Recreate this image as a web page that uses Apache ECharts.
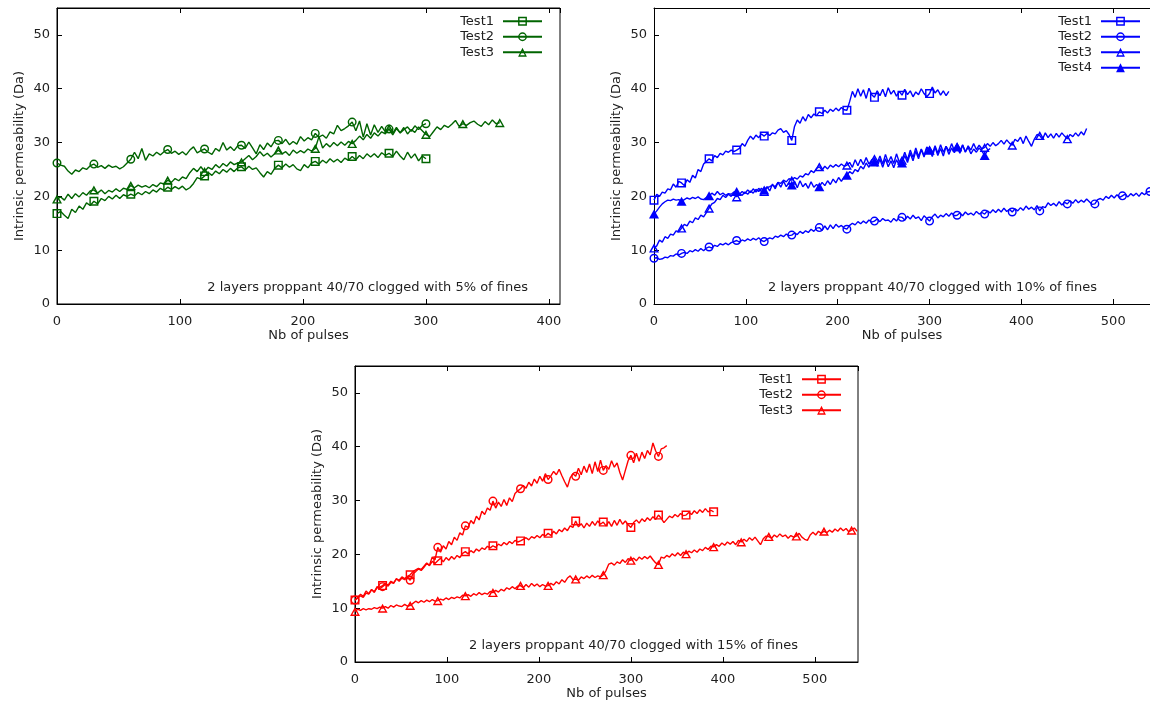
<!DOCTYPE html>
<html>
<head>
<meta charset="utf-8">
<title>Intrinsic permeability vs number of pulses</title>
<script src="https://cdn.jsdelivr.net/npm/echarts/dist/echarts.min.js"></script>
<style>
  html, body { margin: 0; padding: 0; background: #fff; }
  #chart { width: 1150px; height: 704px; }
</style>
</head>
<body>
<div id="chart"></div>
<script>
// Readings are taken every 3 pulses; a marker is drawn every 30 pulses.
const PULSE_STEP = 3;
const MARK_EVERY = 30;

const xTickStep = 100;
const yTickStep = 10;
const yMax = 55;

// ---- 5% of fines ----
const fines5Test1 = [
  16.8,17.2,16.5,15.9,17.6,17.0,18.2,17.6,18.8,18.3,19.1,
  18.6,19.6,19.2,20.0,19.5,20.2,19.6,20.3,20.0,20.4,
  20.1,20.7,20.3,20.9,20.5,21.2,20.8,21.5,21.1,21.7,
  21.3,21.8,21.4,21.9,21.2,21.6,22.4,23.5,23.2,23.8,
  24.4,23.9,24.7,24.2,25.0,24.5,25.2,24.6,25.3,25.5,
  24.9,25.6,25.0,25.3,24.4,23.6,24.6,24.1,25.2,25.8,
  25.3,26.0,25.4,25.9,25.1,24.8,25.9,25.3,26.2,26.5,
  26.0,26.7,26.2,27.0,26.4,26.9,26.3,27.1,26.7,27.4,
  26.8,27.6,27.0,27.9,27.3,27.9,27.2,28.1,27.6,28.0,
  27.4,28.4,27.5,26.8,28.2,27.1,27.9,26.6,27.5,27.0
];
const fines5Test2 = [
  26.2,25.8,25.6,24.7,24.1,24.9,24.6,25.3,25.0,25.7,26.0,
  25.4,25.7,25.2,25.8,25.4,25.6,25.1,25.5,26.2,26.9,
  28.2,27.0,28.9,26.7,27.9,27.5,28.2,27.7,28.3,28.7,
  28.0,28.4,27.8,28.3,27.7,28.6,29.2,28.1,28.5,28.8,
  28.2,27.8,28.9,28.4,30.0,28.6,29.2,28.5,29.4,29.5,
  28.9,30.1,29.0,27.9,29.6,28.7,29.9,29.2,30.3,30.4,
  29.8,30.6,29.6,30.2,29.7,31.1,30.3,30.9,30.5,31.7,
  31.0,31.4,30.8,32.0,31.6,33.2,32.2,32.6,33.1,33.8,
  32.2,34.0,31.0,33.5,31.4,33.3,31.9,33.0,32.0,32.5,
  31.7,32.8,31.8,32.4,32.9,32.1,33.1,32.4,33.2,33.5
];
const fines5Test3 = [
  19.5,19.9,19.3,20.4,19.6,20.5,19.9,20.7,20.2,21.0,21.2,
  20.6,21.2,20.5,21.1,20.8,21.4,20.9,21.5,21.3,22.0,
  21.6,22.1,21.7,22.0,21.6,22.2,21.8,22.5,22.3,23.0,
  22.6,23.3,22.9,23.6,23.3,24.4,25.2,24.6,25.5,24.6,
  25.4,25.0,25.9,25.3,26.1,25.6,26.4,25.9,26.2,26.4,
  27.0,27.6,26.8,27.4,28.3,27.5,28.0,27.3,27.9,28.6,
  27.9,28.3,27.6,28.6,28.0,28.5,28.1,28.8,28.4,28.9,
  31.1,29.0,29.8,29.2,30.0,29.4,30.1,29.5,30.2,29.8,
  30.4,31.2,30.5,31.5,30.8,31.8,31.2,32.0,31.6,32.6,
  31.4,32.6,31.8,32.8,31.6,32.4,31.9,32.9,32.2,31.5,
  31.1,32.0,32.9,32.4,33.2,32.8,33.4,34.1,33.0,33.5,
  33.2,33.7,34.0,33.4,33.0,33.9,33.3,34.2,33.5,33.7
];

// ---- 10% of fines ----
const fines10Test1 = [
  19.3,20.4,20.0,20.8,20.6,21.4,21.2,22.3,21.7,22.8,22.5,
  22.0,23.1,22.6,23.9,23.4,25.0,24.6,26.0,26.5,27.0,
  26.6,27.6,27.2,28.0,27.7,28.4,28.2,28.6,28.3,28.6,
  28.9,29.8,29.3,30.4,31.2,30.6,31.4,30.9,31.6,31.2,
  31.7,31.3,31.8,31.6,32.3,32.6,31.9,32.2,31.5,30.4,
  33.0,34.2,33.6,34.8,34.0,35.2,34.6,35.3,35.0,35.7,
  35.4,36.0,35.5,36.2,35.8,36.4,35.9,36.5,36.1,36.0,
  37.6,39.5,38.4,40.0,38.6,39.8,38.2,40.1,38.9,38.4,
  39.6,38.7,39.9,38.5,40.2,39.0,39.7,38.6,39.5,38.8,
  39.9,38.9,39.6,38.5,39.4,38.9,40.0,39.1,38.5,39.1,
  40.3,39.2,39.8,38.8,39.6,38.7,39.5
];
const fines10Test2 = [
  8.5,8.6,8.3,8.4,8.7,8.6,9.0,8.9,9.3,9.1,9.4,
  9.6,9.4,9.9,9.7,10.1,9.8,10.3,9.9,10.4,10.6,
  10.4,10.9,10.7,11.2,11.0,11.3,11.0,11.4,11.6,11.8,
  11.5,11.9,11.7,12.1,11.8,12.2,11.9,12.3,11.8,11.6,
  12.0,12.3,12.1,12.6,12.4,12.8,12.5,13.0,12.7,12.8,
  13.2,12.9,13.5,13.1,13.6,13.3,13.9,13.5,14.1,14.2,
  13.7,14.5,13.8,14.7,14.0,14.8,14.3,14.6,14.1,13.9,
  14.6,15.0,14.7,15.3,14.9,15.4,15.0,15.6,15.2,15.4,
  15.8,15.3,15.9,15.5,15.6,15.2,15.9,15.4,16.2,16.1,
  15.6,16.3,15.8,16.5,15.9,16.2,15.5,16.4,15.9,15.4,
  16.2,16.7,16.0,16.5,16.2,16.8,16.3,16.9,16.4,16.5,
  16.9,16.4,17.1,16.6,16.9,16.5,17.2,16.7,17.0,16.7,
  17.3,16.9,17.5,17.0,17.6,17.1,17.8,17.2,17.6,17.1,
  17.7,17.3,17.9,17.4,18.2,17.6,18.0,17.5,18.3,17.3,
  18.1,17.9,18.8,18.3,18.7,18.2,19.0,18.4,18.9,18.6,
  19.2,18.7,19.4,18.8,19.3,18.9,19.5,19.0,18.5,18.6,
  19.4,19.6,19.3,20.0,19.6,20.2,19.7,20.3,19.8,20.1,
  20.4,19.9,20.5,20.1,20.6,20.0,20.7,20.3,20.8,20.9
];
const fines10Test3 = [
  10.4,10.8,11.9,11.5,12.5,12.2,13.0,12.8,13.6,13.4,14.1,
  14.8,14.5,15.4,15.1,16.0,15.7,16.5,16.2,17.0,17.8,
  18.6,18.9,19.6,19.4,20.2,19.8,20.4,20.0,20.6,19.9,
  20.5,20.2,20.8,20.4,21.0,20.6,21.3,20.9,21.5,20.9,
  21.6,21.8,22.1,21.8,22.6,22.4,23.0,22.7,23.3,23.0,
  23.5,23.2,23.8,23.6,24.2,24.0,24.8,24.4,25.2,25.5,
  24.9,25.6,25.1,25.8,25.4,25.9,25.5,26.0,25.6,25.8,
  26.3,25.4,26.8,25.7,26.9,25.9,27.2,26.0,26.8,27.0,
  26.2,27.5,26.0,27.8,26.3,27.4,26.1,27.9,26.4,26.7,
  28.2,26.8,28.6,27.2,29.0,27.4,28.8,27.6,29.2,28.6,
  27.9,29.4,28.0,29.6,28.2,29.3,28.4,29.8,28.5,29.2,
  28.4,29.6,28.2,29.4,28.6,29.8,28.7,29.5,28.8,29.1,
  29.8,29.3,30.0,29.4,29.8,30.4,29.7,30.5,29.9,29.5,
  30.6,30.2,31.0,29.8,31.2,30.2,29.3,30.6,31.5,31.3,
  30.6,31.8,30.9,31.6,30.8,31.7,31.0,31.8,31.2,30.7,
  31.5,31.1,31.8,31.2,32.0,31.4,32.6
];
const fines10Test4 = [
  16.7,17.3,18.0,18.6,19.0,19.3,19.2,19.5,19.3,19.4,19.1,
  19.4,19.7,19.5,19.8,19.6,19.9,19.5,19.4,19.8,20.1,
  20.6,20.2,20.9,20.3,20.6,20.2,20.5,20.4,20.8,20.9,
  20.4,20.9,20.5,21.2,20.7,21.4,20.8,21.5,20.9,21.2,
  21.8,21.0,22.3,21.4,22.6,21.7,22.8,21.8,22.5,22.1,
  22.8,21.6,22.9,21.8,22.4,21.5,22.7,21.7,22.2,21.8,
  22.6,22.0,22.9,22.2,23.2,22.5,23.5,22.8,23.6,23.9,
  24.6,24.2,25.0,24.6,25.6,25.1,26.2,25.4,26.6,26.4,
  25.6,26.9,25.4,27.0,25.5,26.6,25.3,26.8,25.8,26.2,
  27.6,26.3,28.0,26.6,28.4,27.0,28.7,27.3,29.0,28.6,
  27.4,29.1,27.6,28.9,27.5,29.3,27.8,29.0,28.1,29.2,
  28.0,29.5,28.3,29.1,27.9,28.8,28.2,29.0,28.4,27.6,
  28.5,28.9
];

// ---- 15% of fines ----
const fines15Test1 = [
  11.5,11.9,12.3,12.0,12.8,12.6,13.4,13.1,13.8,13.9,14.2,
  14.6,14.3,15.0,14.7,15.4,15.2,15.8,15.5,15.9,16.2,
  16.8,17.1,17.4,17.2,17.8,18.4,17.9,18.7,18.3,18.8,
  19.3,18.6,19.4,18.9,19.6,19.1,19.8,19.4,20.2,20.5,
  20.1,20.7,20.3,21.0,20.6,21.2,20.9,21.5,21.2,21.6,
  21.3,21.9,21.6,22.2,21.8,22.4,22.0,22.6,22.3,22.5,
  22.8,23.1,22.7,23.3,23.0,23.5,23.1,23.7,23.4,23.9,
  23.5,24.3,23.8,24.6,24.2,24.9,24.4,25.3,25.0,26.2,
  25.1,25.7,24.9,25.8,25.2,26.1,25.4,26.2,25.6,26.0,
  25.3,26.1,25.2,26.3,25.4,26.5,25.6,26.2,25.5,25.0,
  25.9,26.4,25.8,26.6,26.1,26.8,26.3,27.0,26.5,27.3,
  26.7,25.9,26.5,27.1,26.8,27.4,27.0,27.6,27.2,27.3,
  27.8,27.4,28.1,27.6,28.3,27.8,28.5,27.9,28.2,27.9
];
const fines15Test2 = [
  11.5,12.0,12.6,12.2,13.2,12.7,13.5,12.9,14.0,13.6,14.0,
  14.4,14.1,14.8,14.6,15.5,15.0,15.6,15.3,15.8,15.2,
  16.4,16.8,17.3,17.0,17.6,18.3,18.0,19.5,19.0,21.3,
  20.4,21.6,21.0,22.4,21.8,23.2,22.6,24.0,23.6,25.3,
  25.0,26.3,25.7,27.1,26.4,28.0,27.4,28.6,28.2,29.9,
  28.6,29.7,28.9,30.2,29.1,30.5,29.8,31.3,31.8,32.2,
  32.8,32.3,33.4,32.7,34.0,33.2,34.5,33.6,35.0,33.9,
  34.6,35.4,34.8,35.8,34.6,33.5,32.5,34.2,35.0,34.5,
  36.0,34.8,36.4,35.2,36.8,35.0,37.2,35.4,37.5,35.6,
  36.5,35.8,37.4,36.2,37.0,35.2,33.8,35.6,37.4,38.4,
  37.0,38.8,37.3,39.0,37.8,39.3,38.5,40.7,39.2,38.2,
  39.6,39.8,40.2
];
const fines15Test3 = [
  9.4,9.8,9.6,9.9,9.7,9.9,9.8,10.1,9.9,10.2,10.0,
  10.3,10.0,10.5,10.2,10.6,10.4,10.3,10.7,10.4,10.5,
  10.9,11.3,11.0,11.4,11.1,11.5,11.2,11.6,11.3,11.4,
  11.7,11.5,11.9,11.6,12.0,11.8,12.1,11.9,12.4,12.3,
  12.5,12.2,12.7,12.4,12.9,12.5,12.8,12.6,13.1,12.9,
  13.3,13.0,13.5,13.2,13.8,13.5,14.0,13.6,14.1,14.2,
  13.8,14.4,13.9,14.6,14.1,14.5,14.0,14.4,14.1,14.2,
  14.6,14.3,14.9,14.5,15.3,14.8,15.6,16.0,15.3,15.4,
  15.2,15.8,15.5,16.0,15.6,16.1,15.7,16.0,15.8,16.2,
  17.0,18.2,18.4,18.0,18.6,18.3,19.0,18.5,19.2,18.9,
  19.3,18.8,19.5,19.1,19.6,19.2,19.7,19.0,18.4,18.1,
  19.5,19.3,19.8,19.5,20.1,19.7,20.3,19.8,20.4,20.1,
  20.6,20.3,20.8,20.4,21.0,20.7,21.3,20.9,21.5,21.4,
  21.8,21.5,22.1,21.7,22.3,21.9,22.4,21.8,22.6,22.3,
  22.8,22.4,23.1,22.6,23.2,22.5,21.8,22.9,23.4,23.3,
  23.0,23.6,23.2,23.8,23.3,23.6,23.0,23.5,23.2,23.4,
  23.9,23.2,22.8,22.6,23.6,24.1,23.6,24.3,23.9,24.3,
  24.0,24.5,24.1,24.7,24.3,24.9,24.4,24.8,24.2,24.5,
  24.9,24.3
];

// Hollow marker outlines (outer contour clockwise, inner contour reversed
// so the centre stays open and the curve shows through).
const HOLLOW_SQUARE = 'path://M0,0H10V10H0Z M1.6,1.6V8.4H8.4V1.6Z';
const HOLLOW_CIRCLE = 'path://M5,0A5,5 0 1 1 5,10A5,5 0 1 1 5,0Z M5,1.6A3.4,3.4 0 1 0 5,8.4A3.4,3.4 0 1 0 5,1.6Z';
const HOLLOW_TRIANGLE = 'path://M5,0L10,9L0,9Z M5,3.2L2.3,7.6L7.7,7.6Z';
const FILLED_TRIANGLE = 'path://M5,0L10,9L0,9Z';

const FONT = '"DejaVu Sans", "Liberation Sans", sans-serif';
const TEXT_COLOR = '#1e1e1e';

const panels = [
  {
    tag: '5%', color: '#006400',
    grid: { left: 57, top: 8, width: 503, height: 296, show: true },
    xMax: 409,
    legend: { right: 607, top: 14 },
    note: { x: 528, y: 288, text: '2 layers proppant 40/70 clogged with 5% of fines' },
    curves: [
      ['Test1', fines5Test1, HOLLOW_SQUARE, [9, 9]],
      ['Test2', fines5Test2, HOLLOW_CIRCLE, [9, 9]],
      ['Test3', fines5Test3, HOLLOW_TRIANGLE, [10, 9]]
    ]
  },
  {
    tag: '10%', color: '#0000ff',
    grid: { left: 654, top: 8, width: 496, height: 296, show: false },
    xMax: 540,
    legend: { right: 9, top: 14 },
    note: { x: 1097, y: 288, text: '2 layers proppant 40/70 clogged with 10% of fines' },
    curves: [
      ['Test1', fines10Test1, HOLLOW_SQUARE, [9, 9]],
      ['Test2', fines10Test2, HOLLOW_CIRCLE, [9, 9]],
      ['Test3', fines10Test3, HOLLOW_TRIANGLE, [10, 9]],
      ['Test4', fines10Test4, FILLED_TRIANGLE, [10, 9]]
    ]
  },
  {
    tag: '15%', color: '#ff0000',
    grid: { left: 355, top: 366, width: 503, height: 296, show: true },
    xMax: 547,
    legend: { right: 308, top: 372 },
    note: { x: 798, y: 646, text: '2 layers proppant 40/70 clogged with 15% of fines' },
    curves: [
      ['Test1', fines15Test1, HOLLOW_SQUARE, [9, 9]],
      ['Test2', fines15Test2, HOLLOW_CIRCLE, [9, 9]],
      ['Test3', fines15Test3, HOLLOW_TRIANGLE, [10, 9]]
    ]
  }
];

function toPoints(values) {
  return values.map(function (y, i) {
    const x = i * PULSE_STEP;
    return x % MARK_EVERY === 0 ? { value: [x, y] } : { value: [x, y], symbol: 'none' };
  });
}

const labelStyle = { fontFamily: FONT, fontSize: 13, color: TEXT_COLOR };

const grids = [], xAxes = [], yAxes = [], legends = [], series = [], graphics = [];

panels.forEach(function (p, i) {
  grids.push(Object.assign({ borderColor: '#000', borderWidth: 1, backgroundColor: 'transparent', containLabel: false }, p.grid));

  // bottom axis with labels
  xAxes.push({
    gridIndex: i, type: 'value', min: 0, max: p.xMax, interval: xTickStep,
    name: 'Nb of pulses', nameLocation: 'middle', nameGap: 25,
    nameTextStyle: labelStyle,
    axisLine: { show: true, lineStyle: { color: '#000', width: 1 } },
    axisTick: { show: true, inside: true, length: 5, lineStyle: { color: '#000' } },
    axisLabel: Object.assign({ margin: 11, showMaxLabel: false }, labelStyle),
    splitLine: { show: false }
  });
  // top border carrying the mirrored ticks
  xAxes.push({
    gridIndex: i, type: 'value', position: 'top', min: 0, max: p.xMax, interval: xTickStep,
    axisLine: { show: true, onZero: false, lineStyle: { color: '#000', width: 1 } },
    axisTick: { show: true, inside: true, length: 5, lineStyle: { color: '#000' } },
    axisLabel: { show: false },
    splitLine: { show: false }
  });
  yAxes.push({
    gridIndex: i, type: 'value', min: 0, max: yMax, interval: yTickStep,
    name: 'Intrinsic permeability (Da)', nameLocation: 'middle', nameGap: 31,
    nameTextStyle: labelStyle,
    axisLine: { show: true, lineStyle: { color: '#000', width: 1 } },
    axisTick: { show: true, inside: true, length: 5, lineStyle: { color: '#000' } },
    axisLabel: Object.assign({ margin: 7, showMaxLabel: false }, labelStyle),
    splitLine: { show: false }
  });

  const names = [];
  p.curves.forEach(function (c) {
    const id = p.tag + ':' + c[0];
    names.push(id);
    series.push({
      name: id, type: 'line',
      xAxisIndex: 2 * i, yAxisIndex: i,
      data: toPoints(c[1]),
      symbol: c[2], symbolSize: c[3], showAllSymbol: true,
      color: p.color,
      lineStyle: { color: p.color, width: 1.4 },
      itemStyle: { color: p.color },
      emphasis: { disabled: true },
      animation: false
    });
  });

  legends.push({
    data: names, orient: 'vertical', align: 'right',
    right: p.legend.right, top: p.legend.top, padding: 0,
    itemWidth: 39, itemHeight: 11, itemGap: 1,
    selectedMode: false,
    formatter: function (name) { return name.split(':')[1]; },
    textStyle: { fontFamily: FONT, fontSize: 13, color: TEXT_COLOR, lineHeight: 14.5, padding: [0, 4, 0, 0] }
  });

  graphics.push({
    type: 'text', x: p.note.x, y: p.note.y, silent: true,
    style: { text: p.note.text, align: 'right', verticalAlign: 'middle', font: '13px ' + FONT, fill: TEXT_COLOR }
  });
});

const chart = echarts.init(document.getElementById('chart'), null, { renderer: 'canvas' });
chart.setOption({
  backgroundColor: '#fff',
  animation: false,
  grid: grids,
  xAxis: xAxes,
  yAxis: yAxes,
  legend: legends,
  series: series,
  graphic: graphics
});
</script>
</body>
</html>
